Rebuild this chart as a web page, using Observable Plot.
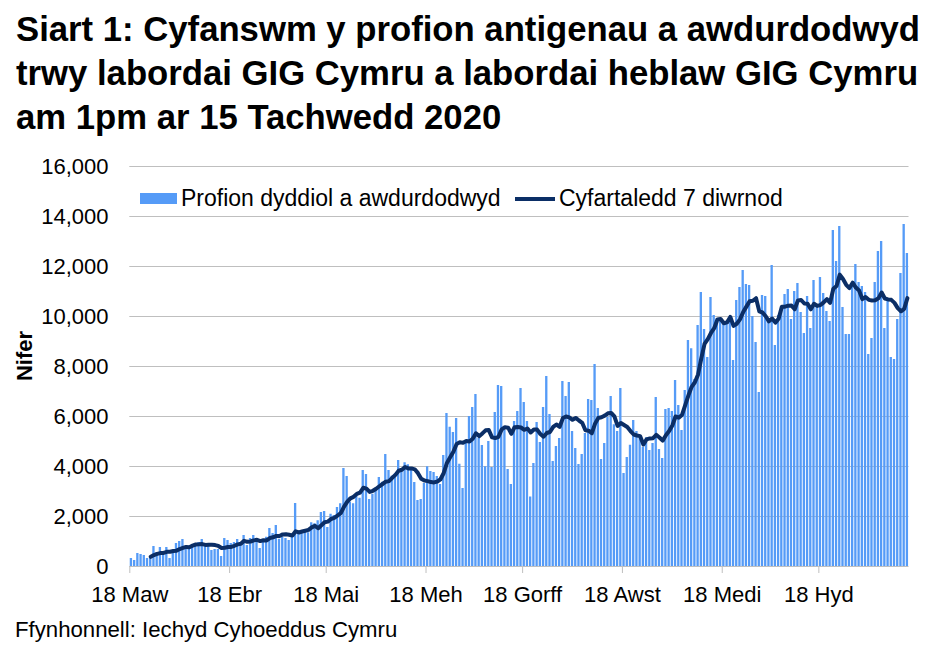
<!DOCTYPE html>
<html>
<head>
<meta charset="utf-8">
<script src="https://cdn.jsdelivr.net/npm/d3@7"></script>
<script src="https://cdn.jsdelivr.net/npm/@observablehq/plot@0.6"></script>
<style>
  html, body { margin: 0; padding: 0; background: #fff; }
  body { position: relative; width: 935px; height: 658px; overflow: hidden; font-family: "Liberation Sans", Arial, sans-serif; color: #000; }
  #title { position: absolute; left: 16px; top: 7px; font-weight: bold; font-size: 34.7px; line-height: 44px; white-space: nowrap; }
  #chart { position: absolute; left: 0; top: 140px; }
  .leg { position: absolute; font-size: 23px; line-height: 22px; white-space: nowrap; }
  .sw { position: absolute; }
  #ylabel { position: absolute; left: -25px; top: 345px; width: 100px; text-align: center; font-weight: bold; font-size: 22px; line-height: 22px; transform: rotate(-90deg); }
  #source { position: absolute; left: 15px; top: 619px; font-size: 22.2px; line-height: 22px; white-space: nowrap; }
</style>
</head>
<body>
<div id="title"></div>
<div id="chart"></div>
<div id="ylabel"></div>
<div class="sw" id="sw1"></div><div class="leg" id="leg1"></div>
<div class="sw" id="sw2"></div><div class="leg" id="leg2"></div>
<div id="source"></div>
<script>
// ---- Data ----
const titleLines = [
  "Siart 1: Cyfanswm y profion antigenau a awdurdodwyd",
  "trwy labordai GIG Cymru a labordai heblaw GIG Cymru",
  "am 1pm ar 15 Tachwedd 2020"
];
const yLabel = "Nifer";
const sourceText = "Ffynhonnell: Iechyd Cyhoeddus Cymru";
const seriesNames = ["Profion dyddiol a awdurdodwyd", "Cyfartaledd 7 diwrnod"];

const firstDay = "2020-03-18";
// daily authorised tests, 18 Mar - 14 Nov 2020
const dailyMar = [320,240,520,480,440,320,400,800,560,760,520,760,320,600];
const dailyApr = [920,1000,1080,800,680,760,920,960,1080,840,880,640,680,680,400,1120,1040,920,960,1080,840,1240,840,1120,1240,1120,720,1080,1170,1520];
const dailyMay = [1320,1640,1090,1170,1120,1040,1280,2520,1310,1350,1400,1350,1750,1710,1830,2160,2200,1560,2090,2040,2360,2510,3920,3600,2570,2510,2870,2730,3840,3680,2680];
const dailyJun = [2890,3080,3560,3370,4480,3840,3610,3710,4240,3840,4150,4070,3840,3360,2640,2680,3320,3990,3800,3760,3600,3280,4440,6120,5570,5360,5920,4090,3120,4930];
const dailyJul = [6000,6360,6880,5130,4840,3990,5000,3960,6160,7240,7200,5440,3880,3280,5800,6200,7120,6560,5800,2780,4120,5760,4960,6360,7600,6080,4200,4800,5120,7400,6800];
const dailyAug = [7360,5400,4720,4080,4480,5320,6680,6640,8080,6320,4280,4920,5970,6800,5670,5400,7120,3720,4360,4850,5840,5400,5210,4770,5150,4640,4920,6760,4680,4320,6280];
const dailySep = [6320,6200,7440,6440,5440,7040,9040,8710,7480,9640,10960,9480,8360,10760,10040,9920,9800,9760,9720,9880,8240,10640,11160,11840,11280,11240,10000,8960,6960,10840];
const dailyOct = [10800,9840,12040,8840,10040,10300,10880,11080,9880,11000,11320,10160,9320,10800,9520,11440,10400,11560,10920,10200,9800,13440,12200,13600,10360,9280,9280,11300,12080,11360,11200];
const dailyNov = [10960,8480,9120,11360,12600,13000,9520,10700,8360,8280,9880,11720,13680,12520];

const xTickDays = ["2020-03-18","2020-04-18","2020-05-18","2020-06-18","2020-07-18","2020-08-18","2020-09-18","2020-10-18"];
const xTickLabels = ["18 Maw","18 Ebr","18 Mai","18 Meh","18 Gorff","18 Awst","18 Medi","18 Hyd"];
const yTicks = [0,2000,4000,6000,8000,10000,12000,14000,16000];

// ---- Build table ----
const parseDay = d3.utcParse("%Y-%m-%d");
const start = parseDay(firstDay);
const values = [].concat(dailyMar, dailyApr, dailyMay, dailyJun, dailyJul, dailyAug, dailySep, dailyOct, dailyNov);
const rows = values.map((v, i) => ({day: d3.utcDay.offset(start, i), value: v}));
const tickDates = xTickDays.map(parseDay);

const barColor = "#559BF7";
const lineColor = "#0B2E66";
const gridColor = "#bfbfbf";
const font = "'Liberation Sans', Arial, sans-serif";

const chart = Plot.plot({
  width: 935,
  height: 480,
  marginTop: 26,
  marginBottom: 54,
  marginLeft: 129.3,
  marginRight: 26.5,
  style: {fontFamily: font, fontSize: "22px", color: "#000", background: "transparent", overflow: "visible"},
  x: {type: "utc", domain: [start, d3.utcDay.offset(start, values.length)], label: null},
  y: {domain: [0, 16000], label: null},
  marks: [
    Plot.ruleY(yTicks, {stroke: gridColor, strokeWidth: 1}),
    Plot.rect(rows, {
      x1: "day",
      x2: d => d3.utcDay.offset(d.day, 1),
      y1: 0,
      y2: "value",
      fill: barColor,
      insetLeft: 0.45,
      insetRight: 0.45
    }),
    Plot.lineY(rows, Plot.windowY({k: 7, anchor: "end", strict: true}, {
      x: d => d3.utcHour.offset(d.day, 12),
      y: "value",
      stroke: lineColor,
      strokeWidth: 4,
      strokeLinejoin: "round",
      strokeLinecap: "round"
    })),
    Plot.axisX(tickDates, {
      anchor: "bottom",
      label: null,
      tickSize: 7,
      tickPadding: 13,
      stroke: gridColor,
      fill: "#000",
      fontSize: 22,
      tickFormat: (d, i) => xTickLabels[i]
    }),
    Plot.axisY(yTicks, {
      anchor: "left",
      label: null,
      tickSize: 0,
      tickPadding: 21.3,
      fill: "#000",
      fontSize: 22,
      tickFormat: d3.format(",")
    })
  ]
});
document.getElementById("chart").appendChild(chart);

// ---- Text & legend ----
document.getElementById("title").innerHTML = titleLines.map(t => `<div>${t}</div>`).join("");
document.getElementById("ylabel").textContent = yLabel;
document.getElementById("source").textContent = sourceText;

const sw1 = document.getElementById("sw1");
Object.assign(sw1.style, {left: "140px", top: "193px", width: "37px", height: "11px", background: barColor});
const leg1 = document.getElementById("leg1");
leg1.textContent = seriesNames[0];
Object.assign(leg1.style, {left: "181px", top: "187px"});
const sw2 = document.getElementById("sw2");
Object.assign(sw2.style, {left: "515px", top: "197px", width: "40px", height: "4px", background: lineColor});
const leg2 = document.getElementById("leg2");
leg2.textContent = seriesNames[1];
Object.assign(leg2.style, {left: "559px", top: "187px"});
</script>
</body>
</html>
